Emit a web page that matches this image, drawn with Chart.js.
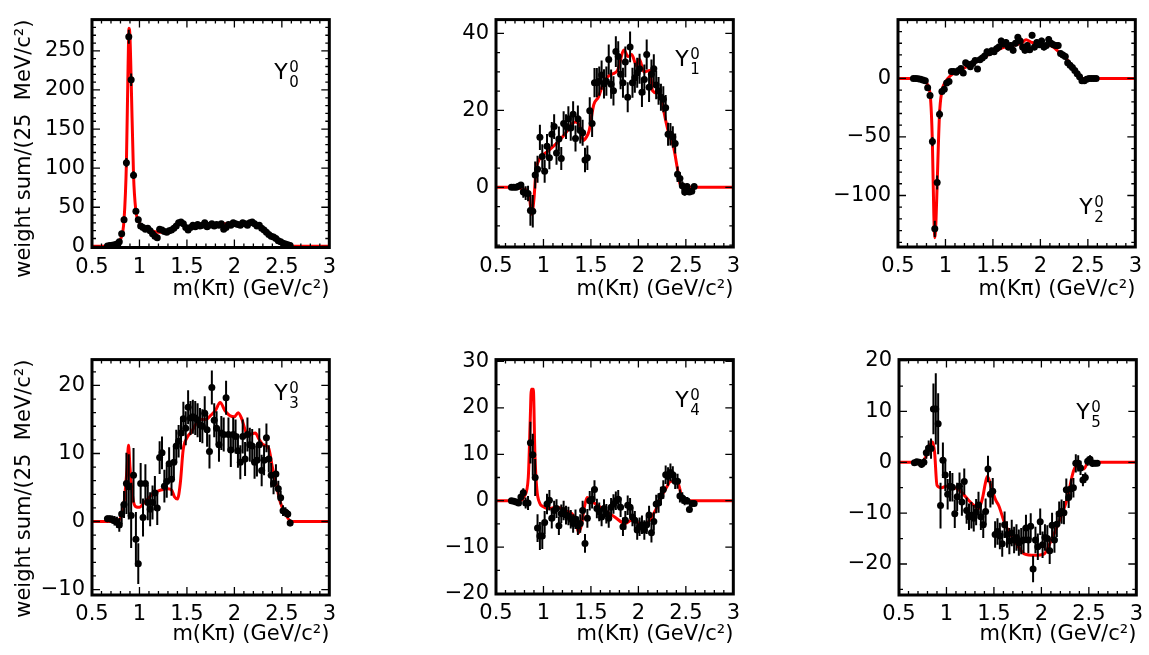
<!DOCTYPE html>
<html>
<head>
<meta charset="utf-8">
<script src="https://cdn.jsdelivr.net/npm/chart.js@4.4.1/dist/chart.umd.min.js"></script>
<style>
  body { margin: 0; background: #fff; }
  #wrap { position: relative; width: 1149px; height: 655px; overflow: hidden; background: #fff; }
  #wrap canvas { position: absolute; }
</style>
</head>
<body>
<div id="wrap"></div>
<script>
// bin centres, 25 MeV bins
const massBins = [
  0.6625,0.6875,0.7125,0.7375,0.7625,0.7875,0.8125,0.8375,0.8625,0.8875,0.9125,0.9375,0.9625,
  0.9875,1.0125,1.0375,1.0625,1.0875,1.1125,1.1375,1.1625,1.1875,1.2125,1.2375,1.2625,1.2875,
  1.3125,1.3375,1.3625,1.3875,1.4125,1.4375,1.4625,1.4875,1.5125,1.5375,1.5625,1.5875,1.6125,
  1.6375,1.6625,1.6875,1.7125,1.7375,1.7625,1.7875,1.8125,1.8375,1.8625,1.8875,1.9125,1.9375,
  1.9625,1.9875,2.0125,2.0375,2.0625,2.0875,2.1125,2.1375,2.1625,2.1875,2.2125,2.2375,2.2625,
  2.2875,2.3125,2.3375,2.3625,2.3875,2.4125,2.4375,2.4625,2.4875,2.5125,2.5375,2.5625,2.5875
];

// Y_0^0
const y00 = [
  0.5,1,1.5,2,3,6,16,34,107,268,213,91,45,
  34,26,24,22,23,20,16,13,11,22,21,19,18,
  20,21,23,26,30,31,29,24,21,24,27,25,28,
  26,27,30,25,27,29,26,28,27,29,22,24,28,
  27,30,29,28,27,30,29,27,30,31,29,26,27,
  23,21,18,15,13,12,10,7,6,4,3,2,1
];
const e00 = [
  0.5,0.7,1,1.2,1.5,2,3,4,6,9,8,5,3.5,
  3,2.8,2.6,2.6,2.5,2.5,2.4,2.3,2.2,2.5,2.5,2.4,2.4,
  2.5,2.5,2.6,2.7,2.8,2.8,2.8,2.6,2.5,2.6,2.7,2.6,2.7,
  2.6,2.7,2.8,2.6,2.7,2.8,2.7,2.7,2.7,2.8,2.5,2.6,2.7,
  2.7,2.8,2.8,2.8,2.7,2.8,2.8,2.7,2.8,2.8,2.8,2.7,2.7,
  2.5,2.4,2.2,2,1.9,1.8,1.6,1.4,1.3,1.1,0.9,0.7,0.5
];
const fitX00 = [0.5,0.65,0.7,0.75,0.8,0.8375,0.8625,0.88,0.89,0.9,0.9125,0.9375,0.9625,0.9875,1.02,1.05,1.1,1.15,1.2,1.25,1.3,1.35,1.4,1.43,1.47,1.5,1.55,1.6,1.7,1.8,1.9,2.0,2.1,2.2,2.25,2.3,2.35,2.4,2.45,2.5,2.55,2.6,3.0];
const fitY00 = [0,0,1,3,9,34,107,230,279,268,213,91,45,33,26,23,21,19,18,18,19,22,27,29,27,24,24,25,26,28,29,29,29,28,26,21,16,12,8,5,2,0,0];

// Y_1^0
const y01 = [
  0,0,0,0.3,0.6,-1.2,-1.5,-1.6,-6,-6.2,3.2,4.7,13,
  8,4.2,10.7,7.7,13.8,15.8,8.9,12.6,7.5,16.6,15.8,17.8,15.4,
  19,12.7,17.8,14.8,14.2,7.1,7.7,19.9,16.6,27.2,27.2,27.6,29.2,
  26.9,27.6,33.2,26.8,25.1,35.3,34,29.4,27.2,32.6,23.4,36.5,27.2,
  28.5,29.8,30.8,24.7,28,34.5,26,29.4,30.8,26.6,25.1,23.4,22.9,
  20.7,13.8,13.8,13.1,11.4,3.4,2.3,0.4,-1.2,0.2,-1.2,-1,0.2
];
const e01 = [
  0.5,0.5,0.6,0.7,0.8,1.5,1.8,2,4,4.2,3.5,3.5,3.3,
  3.2,3,3.2,3,3.2,3.2,3,3.2,3,3.2,3.2,3.3,3.3,
  3.4,3.4,3.5,3.4,3.4,3.2,3.2,3.5,3.5,3.8,3.8,3.8,3.8,
  3.8,3.8,3.9,3.8,3.8,4,4,3.9,3.9,4,3.9,4,3.9,
  3.9,3.9,3.9,3.8,3.9,3.9,3.8,3.8,3.8,3.7,3.6,3.5,3.4,
  3.3,3,2.9,2.8,2.6,2,1.6,1.2,1,0.8,0.7,0.6,0.5
];
const fitX01 = [0.5,0.65,0.8,0.85,0.875,0.9,0.92,0.95,1.0,1.06,1.16,1.23,1.3,1.34,1.38,1.42,1.45,1.48,1.53,1.58,1.63,1.68,1.73,1.78,1.85,1.89,1.93,1.98,2.01,2.06,2.12,2.15,2.2,2.24,2.27,2.32,2.37,2.41,2.44,2.48,3.0];
const fitY01 = [0,0,-0.5,-2,-7,-3,4,7,8.5,9.7,12,14,16.5,17,16,12.2,13,14.6,21.5,23.5,27,28.8,29.5,30.4,35.7,34,34.5,31.6,33.3,30,30.4,25.1,24.5,23.9,19.5,14,10.5,5,0.8,0,0];

// Y_2^0
const y02 = [
  0,0,-0.3,-0.8,-1.3,-2,-8,-14.7,-54,-128.5,-89,-30.7,-11.2,
  -9.3,-4,-2.7,5.9,5.9,5.3,6.7,8.5,4.5,13.3,12,10,12.8,
  15.2,8,16,17.3,19.2,22.7,21.9,23.5,22.7,25.3,26.7,32,29.3,
  30.7,26.7,28,24,30,35.2,32,26.7,24,28,24.5,36.8,26.7,
  30.7,28.8,32,26.7,28,33.3,29.9,28.8,28,28,21.3,20,18.7,
  13.3,11.2,9.3,6.7,4,1.3,-2,-2,-0.8,0,0,0,0
];
const e02 = [
  0.5,0.5,0.6,0.7,0.8,1,1.5,2,4,7,6,4,2.5,
  2.5,2.3,2.2,2.2,2.2,2.2,2.2,2.3,2.3,2.4,2.4,2.4,2.4,
  2.5,2.5,2.6,2.6,2.7,2.7,2.7,2.7,2.7,2.8,2.8,2.8,2.8,
  2.8,2.8,2.8,2.8,2.8,2.8,2.8,2.8,2.8,2.8,2.8,2.8,2.8,
  2.8,2.8,2.8,2.8,2.8,2.8,2.8,2.8,2.7,2.7,2.6,2.5,2.4,
  2.3,2.2,2,1.8,1.6,1.4,1.2,1,0.9,0.8,0.7,0.6,0.5
];
const fitX02 = [0.5,0.65,0.75,0.8,0.84,0.862,0.877,0.887,0.9,0.913,0.937,0.96,1.0,1.05,1.1,1.2,1.3,1.4,1.5,1.6,1.7,1.8,1.85,1.9,1.95,2.0,2.05,2.1,2.15,2.2,2.25,2.3,2.35,2.4,2.45,2.5,3.0];
const fitY02 = [0,0,-1,-4,-15,-54,-115,-136,-122,-89,-31,-12,-3,2,5,9,13,18,22,26,28,30,33,31,30,29,28,28,26,22,19,14,8,4,0,0,0];

// Y_3^0
const y03 = [
  0.4,0.4,0.3,0.1,-0.1,-0.5,1.1,2.5,5.6,5.1,0.9,6.8,-2.6,
  -6.2,5.6,0.6,5.6,2.8,1.8,2.8,4.2,2,9.4,10.1,5.2,5.9,
  8.5,6.2,8.7,11.1,11.8,13,15.1,13.7,16.8,15.2,15.4,15.2,14.9,
  14.2,14,15.9,13.5,10.3,19.7,14.9,13.7,11.3,13,12.8,18.2,12.8,
  10.5,12.8,12.5,10.4,8.7,12.5,9.2,12.8,11.3,11.1,8.7,9,11.3,
  7.5,9,12.3,9.2,6.8,5.6,7,4.8,3.5,1.6,1.4,1.1,-0.2
];
const e03 = [
  0.5,0.5,0.6,0.7,0.8,1,1.5,2,4.5,4.8,4.8,4,4,
  3,3,2.8,2.8,2.6,2.5,2.5,2.5,2.5,2.4,2.4,2.4,2.4,
  2.4,2.4,2.4,2.4,2.4,2.4,2.5,2.5,2.5,2.5,2.5,2.5,2.5,
  2.5,2.5,2.5,2.5,2.5,2.5,2.5,2.5,2.5,2.5,2.5,2.5,2.5,
  2.5,2.5,2.5,2.5,2.5,2.5,2.5,2.5,2.5,2.5,2.4,2.4,2.4,
  2.3,2.2,2.1,2,1.8,1.6,1.4,1.2,1,0.8,0.7,0.6,0.5
];
const fitX03 = [0.5,0.75,0.8,0.84,0.87,0.885,0.9,0.93,0.96,1.0,1.05,1.1,1.15,1.2,1.25,1.3,1.34,1.37,1.4,1.43,1.46,1.5,1.55,1.6,1.65,1.7,1.75,1.8,1.85,1.9,1.95,2.0,2.04,2.08,2.12,2.16,2.22,2.26,2.3,2.36,2.4,2.44,2.48,2.53,2.6,3.0];
const fitY03 = [0,0,0.5,3,8,11.2,8,3.5,2.2,2.1,2.8,3.5,4.2,4.5,4.7,4.8,4.6,3.6,3.3,5.6,10.5,12.3,13.2,14.5,15,15,15.6,16.3,17.5,16.3,15.6,15.4,16,15,13.2,12.8,13,12.1,11.3,10.8,8,5.5,3,1.3,0,0];

// Y_4^0
const y04 = [
  0,-0.1,-0.3,-0.5,0.8,1.7,-0.5,-0.5,12.5,9.9,5,-5.9,-7.6,
  -7.6,-4.7,-0.7,0.1,-3.8,-2.1,-1.7,-5.4,-2.8,-2.1,-3.1,-3.3,-4,
  -4.9,-4,-5.4,-4.9,-2.1,-9.2,-3.8,0,0.3,2.4,-1.7,-2.4,-3.5,
  -1.7,-2.8,-3.8,-1.4,-0.7,0,0.3,-1.4,-5.6,-4.2,-1,-1.4,-3.5,
  -4.2,-6.3,-5.6,-5.2,-6.3,-5.2,-3.1,-6.9,-4.5,-0.7,-0.5,1,2.4,
  5.6,5.2,6.1,5.6,4.2,4.2,1,0.6,0,0,-1.9,-0.6,-0.6
];
const e04 = [
  0.4,0.4,0.5,0.6,0.8,1,1.2,1.5,4.5,4.5,4,3,3,
  2.8,2.5,2.2,2.2,2.2,2.1,2,2,2,2.1,2,2,2,
  2,2.1,2,2,2.1,2,2,2.1,2,2,2.1,2,2,
  2,2.1,2,2,2.1,2,2,2.1,2,2,2.1,2,2,
  2,2.1,2,2,2.1,2,2,2.1,2,2,2.1,2,2,
  2,2,1.9,1.8,1.7,1.6,1.4,1.2,1,0.8,0.6,0.5,0.4
];
const fitX04 = [0.5,0.75,0.8,0.84,0.86,0.872,0.893,0.91,0.93,0.96,0.99,1.06,1.13,1.23,1.34,1.37,1.4,1.43,1.46,1.5,1.55,1.65,1.75,1.86,1.93,2.0,2.07,2.14,2.2,2.24,2.3,2.34,2.41,2.45,2.48,2.52,3.0];
const fitY04 = [0,0,1,5,17,24,24,10,2.5,-0.5,-1.2,-1.7,-1.4,-2.1,-4.2,-6.9,-5.2,-1.5,0.7,0,-0.7,-2.1,-3.5,-4.9,-4.2,-4.8,-5.2,-3.5,-1.2,0.7,3,4.2,4.2,1.4,0,0,0];

// Y_5^0
const y05 = [
  -0.1,0.1,0,-0.4,0,1.9,2.8,2.7,10.5,10.5,7.6,-8.5,0.4,
  -2.5,-6.3,-4.7,-4.9,-10.1,-6.8,-4.7,-7.8,-3.8,-9.5,-10.7,-10.4,-11,
  -9.8,-8.4,-10.7,-12.3,-9.7,-1.3,-6.3,-5.7,-14.2,-13.6,-14.5,-16,-12.3,
  -14.2,-15.5,-13.9,-15.3,-14.8,-15.8,-15.5,-15.3,-12.9,-15.3,-12.6,-21,-15.3,
  -16.6,-11.7,-16.2,-14.8,-15,-17.4,-12.4,-15.3,-12.2,-10.1,-9.7,-9.9,-5.4,
  -6.9,-5.2,-5,-0.2,-0.2,-1.1,-3.5,-3,0.2,0.6,-0.2,-0.2,-0.2
];
const e05 = [
  0.5,0.5,0.6,0.7,0.8,1.2,1.5,2,5,7,6,4.5,3.5,
  3.2,3,3,2.8,2.8,2.8,2.7,2.7,2.6,2.6,2.6,2.6,2.6,
  2.6,2.6,2.6,2.6,2.6,2.6,2.6,2.6,2.6,2.6,2.6,2.6,2.6,
  2.6,2.6,2.6,2.6,2.6,2.6,2.6,2.6,2.6,2.6,2.6,2.6,2.6,
  2.6,2.6,2.6,2.6,2.6,2.6,2.5,2.5,2.5,2.4,2.4,2.3,2.2,
  2.1,2,1.9,1.8,1.6,1.4,1.2,1,0.9,0.8,0.7,0.6,0.5
];
const fitX05 = [0.5,0.72,0.78,0.83,0.855,0.875,0.9,0.95,1.0,1.13,1.24,1.29,1.34,1.38,1.41,1.43,1.45,1.48,1.52,1.55,1.62,1.72,1.82,1.93,2.03,2.1,2.2,2.27,2.34,2.39,2.45,2.48,2.52,3.0];
const fitY05 = [0,0,1,3.5,4,2,-4.5,-5,-4.7,-5.4,-7.6,-8.5,-9.1,-7,-4.1,-2.8,-3.5,-5.4,-7.5,-8.5,-12.3,-15.5,-18,-18.3,-18,-15.5,-11,-7.3,-1.6,-0.6,-1.3,-0.3,0,0];

// tick labels
const xTicks = [0.5, 1, 1.5, 2, 2.5, 3];
const yTicks00 = [0, 50, 100, 150, 200, 250];
const yTicks01 = [0, 20, 40];
const yTicks02 = [-100, -50, 0];
const yTicks03 = [-10, 0, 10, 20];
const yTicks04 = [-20, -10, 0, 10, 20, 30];
const yTicks05 = [-20, -10, 0, 10, 20];

const FONT = 'DejaVu Sans';
const xTitle = 'm(K\u03c0) (GeV/c\u00b2)';
const yTitle = 'weight sum/(25  MeV/c\u00b2)';

// frame = [left, top, right, bottom] in page pixels
const panels = [
  { y: y00, e: e00, fx: fitX00, fy: fitY00, min: -1.5, max: 290, ticks: yTicks00, minor: 10,
    frame: [92, 4, 333, 247.5], top: 0, h: 302, yTitle: true, idx: '0', lab: [55, 59] },
  { y: y01, e: e01, fx: fitX01, fy: fitY01, min: -15.5, max: 43.6, ticks: yTicks01, minor: 5,
    frame: [496, 4, 737, 247], top: 0, h: 302, yTitle: false, idx: '1', lab: [58, 46] },
  { y: y02, e: e02, fx: fitX02, fy: fitY02, min: -144, max: 50.2, ticks: yTicks02, minor: 10,
    frame: [898, 4, 1139, 247], top: 0, h: 302, yTitle: false, idx: '2', lab: [56, 194] },
  { y: y03, e: e03, fx: fitX03, fy: fitY03, min: -10.8, max: 23.8, ticks: yTicks03, minor: 2,
    frame: [92, 353, 333, 595], top: 340, h: 307, yTitle: true, idx: '3', lab: [55, 40] },
  { y: y04, e: e04, fx: fitX04, fy: fitY04, min: -20.1, max: 30.4, ticks: yTicks04, minor: 5,
    frame: [496, 353, 737, 594], top: 340, h: 307, yTitle: false, idx: '4', lab: [58, 47] },
  { y: y05, e: e05, fx: fitX05, fy: fitY05, min: -26.1, max: 20.2, ticks: yTicks05, minor: 5,
    frame: [899, 353, 1140, 595], top: 340, h: 307, yTitle: false, idx: '5', lab: [60, 59] }
];

const fmt = v => String(v).replace('-', '\u2212');

// error bars, frame, inner ticks, Y_l^0 label
const rootStyle = {
  id: 'rootStyle',
  afterDatasetsDraw(chart) {
    const { ctx, chartArea: a, scales: { x, y } } = chart;
    ctx.save();
    ctx.strokeStyle = '#000';
    ctx.lineWidth = 2;
    ctx.beginPath();
    chart.data.datasets[0].data.forEach(p => {
      const px = x.getPixelForValue(p.x);
      const y1 = Math.max(y.getPixelForValue(p.y + p.e), a.top);
      const y2 = Math.min(y.getPixelForValue(p.y - p.e), a.bottom);
      ctx.moveTo(px, y1);
      ctx.lineTo(px, y2);
    });
    ctx.stroke();
    ctx.restore();
  },
  afterDraw(chart, args, opts) {
    const { ctx, chartArea: a, scales: { x, y } } = chart;
    ctx.save();
    ctx.strokeStyle = '#000';
    ctx.lineWidth = 1.3;
    ctx.beginPath();
    for (let k = 0; k <= 25; k++) {
      const px = x.getPixelForValue(0.5 + k * 0.1);
      const len = k % 5 === 0 ? 8 : 4;
      ctx.moveTo(px, a.bottom); ctx.lineTo(px, a.bottom - len);
      ctx.moveTo(px, a.top); ctx.lineTo(px, a.top + len);
    }
    const step = opts.minor;
    for (let k = Math.ceil(y.min / step); k * step <= y.max; k++) {
      const v = k * step;
      const py = y.getPixelForValue(v);
      const len = opts.ticks.includes(v) ? 8 : 4;
      ctx.moveTo(a.left, py); ctx.lineTo(a.left + len, py);
      ctx.moveTo(a.right, py); ctx.lineTo(a.right - len, py);
    }
    ctx.stroke();
    ctx.lineWidth = 3;
    ctx.strokeRect(a.left, a.top, a.right - a.left, a.bottom - a.top);

    const lx = a.right - opts.lab[0];
    const ly = a.top + opts.lab[1];
    ctx.fillStyle = '#000';
    ctx.textBaseline = 'alphabetic';
    ctx.textAlign = 'left';
    ctx.font = '22px "' + FONT + '"';
    ctx.fillText('Y', lx, ly);
    ctx.font = '15px "' + FONT + '"';
    ctx.fillText('0', lx + 15, ly - 7);
    ctx.fillText(opts.idx, lx + 15, ly + 8);
    ctx.restore();
  }
};

const wrap = document.getElementById('wrap');
panels.forEach(p => {
  const [L, T, R, B] = p.frame;
  const cv = document.createElement('canvas');
  const w = 92 + (R - L) + 10;
  cv.width = w;
  cv.height = p.h;
  cv.style.left = (L - 92) + 'px';
  cv.style.top = p.top + 'px';
  cv.style.width = w + 'px';
  cv.style.height = p.h + 'px';
  wrap.appendChild(cv);

  const points = massBins.map((m, i) => ({ x: m, y: p.y[i], e: p.e[i] }));
  const fit = p.fx.map((m, i) => ({ x: m, y: p.fy[i] }));
  const xAxisH = p.h - (B - p.top);
  const font = { family: FONT, size: 21 };

  new Chart(cv, {
    type: 'scatter',
    data: {
      datasets: [
        { data: points, pointRadius: 3.5, pointBackgroundColor: '#000', pointBorderWidth: 0, showLine: false },
        { data: fit, showLine: true, borderColor: '#ff0000', borderWidth: 3, pointRadius: 0,
          cubicInterpolationMode: 'monotone', fill: false }
      ]
    },
    options: {
      responsive: false,
      animation: false,
      events: [],
      layout: { autoPadding: false, padding: { left: 0, top: T - p.top, right: 10, bottom: 0 } },
      plugins: {
        legend: { display: false },
        tooltip: { enabled: false },
        rootStyle: { minor: p.minor, ticks: p.ticks, idx: p.idx, lab: p.lab }
      },
      scales: {
        x: {
          type: 'linear', min: 0.5, max: 3,
          grid: { display: false, drawTicks: false },
          border: { display: false },
          afterBuildTicks: ax => { ax.ticks = xTicks.map(v => ({ value: v })); },
          ticks: { padding: 7, font, color: '#000', maxRotation: 0, autoSkip: false, callback: v => fmt(v) },
          title: { display: true, text: xTitle, align: 'end', color: '#000', font, padding: 0 },
          afterFit: ax => { ax.height = xAxisH; }
        },
        y: {
          type: 'linear', min: p.min, max: p.max,
          grid: { display: false, drawTicks: false },
          border: { display: false },
          afterBuildTicks: ax => { ax.ticks = p.ticks.map(v => ({ value: v })); },
          ticks: { padding: 7, font, color: '#000', autoSkip: false, callback: v => fmt(v) },
          title: { display: p.yTitle, text: yTitle, align: 'end', color: '#000', font, padding: { top: 12, bottom: 0 } },
          afterFit: ax => { ax.width = 92; }
        }
      }
    },
    plugins: [rootStyle]
  });
});
</script>
</body>
</html>
